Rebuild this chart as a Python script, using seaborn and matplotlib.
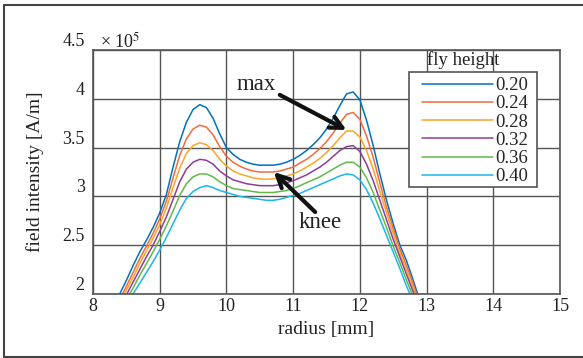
import numpy as np
import pandas as pd
import matplotlib
matplotlib.use("Agg")
import matplotlib.pyplot as plt
from matplotlib.lines import Line2D
from matplotlib.patches import Rectangle
import seaborn as sns

# ---------------- data (field intensity in units of 1e5 A/m) ----------------
radius = [8.3, 8.4, 8.5, 8.6, 8.7, 8.8, 8.9, 9.0, 9.1, 9.2, 9.3, 9.4, 9.5, 9.6,
          9.7, 9.8, 9.9, 10.0, 10.1, 10.2, 10.3, 10.4, 10.5, 10.6, 10.7, 10.8,
          10.9, 11.0, 11.1, 11.2, 11.3, 11.4, 11.5, 11.6, 11.7, 11.8, 11.9,
          12.0, 12.1, 12.2, 12.3, 12.4, 12.5, 12.6, 12.7, 12.8, 12.9, 13.0]

h020 = [1.85, 2.00, 2.14, 2.29, 2.43, 2.55, 2.68, 2.83, 3.02, 3.30, 3.56, 3.76,
        3.89, 3.94, 3.91, 3.80, 3.64, 3.50, 3.43, 3.38, 3.35, 3.33, 3.32, 3.32,
        3.32, 3.33, 3.35, 3.38, 3.42, 3.47, 3.53, 3.60, 3.69, 3.80, 3.93, 4.05,
        4.07, 3.99, 3.78, 3.52, 3.23, 2.96, 2.72, 2.50, 2.34, 2.14, 1.93, 1.75]
h024 = [1.80, 1.94, 2.08, 2.22, 2.36, 2.49, 2.62, 2.77, 2.95, 3.19, 3.42, 3.59,
        3.69, 3.73, 3.71, 3.63, 3.51, 3.41, 3.35, 3.31, 3.28, 3.26, 3.25, 3.25,
        3.25, 3.26, 3.28, 3.30, 3.34, 3.38, 3.43, 3.49, 3.56, 3.65, 3.75, 3.84,
        3.86, 3.79, 3.62, 3.40, 3.14, 2.89, 2.67, 2.46, 2.29, 2.10, 1.90, 1.72]
h028 = [1.77, 1.90, 2.04, 2.17, 2.31, 2.44, 2.57, 2.71, 2.88, 3.09, 3.29, 3.44,
        3.52, 3.55, 3.53, 3.47, 3.38, 3.31, 3.26, 3.23, 3.21, 3.19, 3.18, 3.175,
        3.18, 3.19, 3.21, 3.23, 3.26, 3.30, 3.34, 3.39, 3.45, 3.52, 3.60, 3.67,
        3.67, 3.61, 3.47, 3.28, 3.05, 2.83, 2.62, 2.42, 2.25, 2.06, 1.87, 1.70]
h032 = [1.74, 1.87, 1.99, 2.12, 2.25, 2.38, 2.50, 2.64, 2.79, 2.97, 3.15, 3.28,
        3.35, 3.38, 3.37, 3.33, 3.26, 3.21, 3.17, 3.15, 3.13, 3.12, 3.11, 3.11,
        3.11, 3.12, 3.14, 3.16, 3.19, 3.22, 3.26, 3.30, 3.35, 3.41, 3.47, 3.51,
        3.52, 3.46, 3.33, 3.16, 2.96, 2.76, 2.56, 2.38, 2.20, 2.02, 1.84, 1.67]
h036 = [1.70, 1.82, 1.94, 2.06, 2.19, 2.31, 2.43, 2.56, 2.70, 2.85, 3.01, 3.13,
        3.20, 3.23, 3.23, 3.20, 3.15, 3.11, 3.08, 3.07, 3.06, 3.05, 3.04, 3.04,
        3.04, 3.05, 3.06, 3.08, 3.11, 3.14, 3.17, 3.20, 3.24, 3.28, 3.32, 3.35,
        3.35, 3.30, 3.19, 3.04, 2.86, 2.68, 2.49, 2.32, 2.14, 1.97, 1.80, 1.64]
h040 = [1.66, 1.77, 1.89, 2.00, 2.11, 2.22, 2.33, 2.45, 2.58, 2.72, 2.86, 2.98,
        3.05, 3.09, 3.11, 3.09, 3.06, 3.04, 3.02, 3.00, 2.99, 2.98, 2.97, 2.96,
        2.96, 2.97, 2.99, 3.01, 3.03, 3.06, 3.09, 3.12, 3.15, 3.18, 3.21, 3.23,
        3.22, 3.17, 3.07, 2.93, 2.77, 2.60, 2.43, 2.26, 2.08, 1.92, 1.76, 1.60]

heights = ["0.20", "0.24", "0.28", "0.32", "0.36", "0.40"]
series = [h020, h024, h028, h032, h036, h040]
colors = ["#0072BD", "#F26B3F", "#FBA627", "#8E3C9A", "#62B94A", "#19B7EA"]

xticks = [8, 9, 10, 11, 12, 13, 14, 15]
yticks = [2, 2.5, 3, 3.5, 4, 4.5]
ytick_labels = ["2", "2.5", "3", "3.5", "4", "4.5"]

df = pd.concat([pd.DataFrame({"radius": radius, "field": s, "fly height": h})
                for h, s in zip(heights, series)], ignore_index=True)

# ---------------- figure ----------------
sns.set_style("white")
plt.rcParams["font.family"] = ["Liberation Serif", "DejaVu Serif"]
plt.rcParams["mathtext.fontset"] = "stix"

W, H = 583, 358
fig = plt.figure(figsize=(W / 100, H / 100), dpi=100)
ax = fig.add_axes([93 / W, 1 - 294 / H, (560 - 93) / W, (294 - 50) / H])

sns.lineplot(data=df, x="radius", y="field", hue="fly height",
             palette=dict(zip(heights, colors)), ax=ax, lw=1.1,
             legend=False, sort=False)

ax.set_xlim(8, 15)
ax.set_ylim(2, 4.5)
ax.set_xticks(xticks)
ax.set_xticklabels([str(t) for t in xticks])
ax.set_yticks(yticks)
ax.set_yticklabels(ytick_labels, va="bottom")
ax.tick_params(axis="both", length=0, labelsize=13, colors="#222222")
ax.tick_params(axis="x", pad=3)
ax.tick_params(axis="y", pad=6)
ax.grid(True, color="#555555", lw=1.0)
for sp in ax.spines.values():
    sp.set_color("#555555")
    sp.set_linewidth(1.2)

ax.set_xlabel("radius [mm]", fontsize=14, color="#222222", labelpad=4)
ax.set_ylabel("field intensity [A/m]", fontsize=14, color="#222222", labelpad=13)

fig.text(100 / W, 1 - 42 / H, r"× 10$^{5}$", fontsize=13, color="#222222",
         va="center", ha="left")

# legend box (drawn separately) + legend entries
ax.add_patch(Rectangle((409 / W, 1 - 187 / H), (537 - 409) / W, (187 - 72) / H,
                       transform=fig.transFigure, facecolor="white",
                       edgecolor="#555555", lw=1.2, clip_on=False, zorder=4))
handles = [Line2D([0], [0], color=c, lw=1.1) for c in colors]
leg = ax.legend(handles, heights, loc="upper left",
                bbox_to_anchor=(422 / W, 1 - 77 / H), bbox_transform=fig.transFigure,
                fontsize=13.5, frameon=False, handlelength=3.8,
                handletextpad=0.1, labelspacing=0.06, borderpad=0,
                borderaxespad=0)
leg.set_zorder(5)
fig.text(463 / W, 1 - 60 / H, "fly height", fontsize=13.5, color="#222222",
         ha="center", va="center")

# annotations
ax.annotate("", xy=(11.80, 3.68), xytext=(10.80, 4.04),
            arrowprops=dict(arrowstyle="->", lw=3, color="#111111",
                            mutation_scale=22, shrinkA=0, shrinkB=0))
ax.text(10.44, 4.15, "max", fontsize=16.5, ha="center", va="center", color="#222222")
ax.annotate("", xy=(10.71, 3.25), xytext=(11.33, 2.84),
            arrowprops=dict(arrowstyle="->", lw=3, color="#111111",
                            mutation_scale=22, shrinkA=0, shrinkB=0))
ax.text(11.40, 2.73, "knee", fontsize=16.5, ha="center", va="center", color="#222222")

# outer frame (right side lies outside the image)
for xs, ys in [([4, 600], [5, 5]), ([4, 4], [5, 357]), ([4, 600], [357, 357])]:
    fig.add_artist(Line2D([x / W for x in xs], [1 - y / H for y in ys],
                          transform=fig.transFigure, color="#444444", lw=1.5))

fig.savefig("out.png", dpi=100)
